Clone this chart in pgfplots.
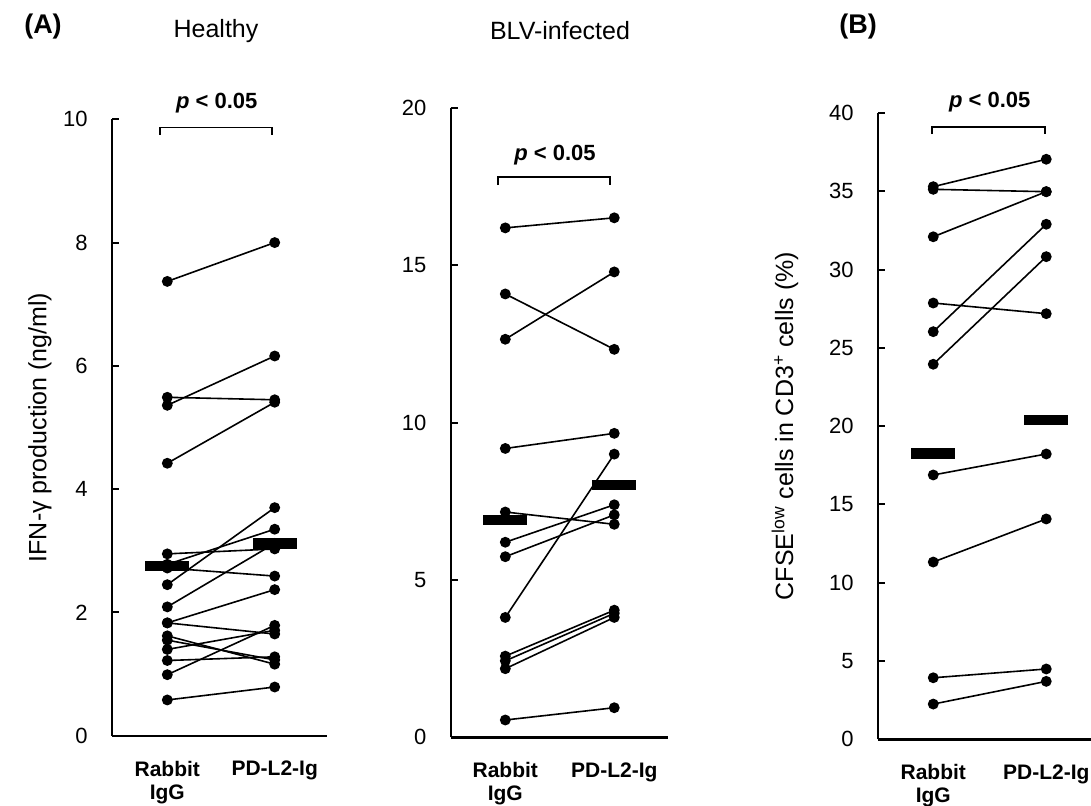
\documentclass[border=0pt]{standalone}
\usepackage{fontspec}
\setmainfont{Liberation Sans}
\usepackage{pgfplots}
\pgfplotsset{compat=1.18}
\pgfdeclareplotmark{meanbar}{\pgfpathrectangle{\pgfpoint{-11pt}{-2.6pt}}{\pgfpoint{22pt}{5.2pt}}\pgfusepathqfill}
\newcommand{\tk}{\fontsize{11}{13}\selectfont}
\newcommand{\xl}{\fontsize{10.5}{12}\selectfont}
\newcommand{\lb}{\fontsize{12.5}{14}\selectfont}
\begin{document}
\begin{tikzpicture}
\path[use as bounding box] (0,0) rectangle (545.5pt,402.5pt);
\pgfplotsset{
  panel/.style={
    scale only axis,
    axis lines*=left,
    axis line style={line width=1.2pt},
    tick align=inside,
    major tick length=3.5pt,
    every tick/.style={line width=1pt, black},
    x tick style={draw=none},
    xtick={0,1},
    xticklabels={{Rabbit\\[-0.5pt]IgG},{PD-L2-Ig}},
    xticklabel style={font=\xl\bfseries, align=center, anchor=north, yshift=-12.5pt, inner sep=0pt},
    yticklabel style={font=\tk, inner sep=0pt, xshift=-12pt},
    /pgf/number format/assume math mode=true,
    clip=false,
    every axis y label/.style={rotate=90, anchor=center, font=\lb},
  },
  pr/.style={black, line width=0.8pt, mark=*, mark size=2.3pt, mark options={solid}},
  meanst/.style={only marks, mark=meanbar, black},
}
% Panel A healthy
\begin{axis}[panel, at={(56pt,34.65pt)}, anchor=south west,
  width=107.5pt, height=308.2pt,
  xmin=-0.515, xmax=1.487, ymin=0, ymax=10, ytick={0,2,4,6,8,10},
  ylabel={IFN-γ production (ng/ml)},
  every axis y label/.append style={at={(rel axis cs:-0.335,0.5)}}]
\addplot[pr] coordinates {(0,7.37) (1,8.00)};
\addplot[pr] coordinates {(0,5.36) (1,6.16)};
\addplot[pr] coordinates {(0,5.49) (1,5.45)};
\addplot[pr] coordinates {(0,4.42) (1,5.41)};
\addplot[pr] coordinates {(0,2.95) (1,3.03)};
\addplot[pr] coordinates {(0,2.78) (1,3.35)};
\addplot[pr] coordinates {(0,2.72) (1,2.59)};
\addplot[pr] coordinates {(0,2.45) (1,3.70)};
\addplot[pr] coordinates {(0,2.09) (1,3.12)};
\addplot[pr] coordinates {(0,1.83) (1,2.37)};
\addplot[pr] coordinates {(0,1.83) (1,1.65)};
\addplot[pr] coordinates {(0,1.62) (1,1.16)};
\addplot[pr] coordinates {(0,1.55) (1,1.23)};
\addplot[pr] coordinates {(0,1.40) (1,1.71)};
\addplot[pr] coordinates {(0,1.22) (1,1.28)};
\addplot[pr] coordinates {(0,0.99) (1,1.79)};
\addplot[pr] coordinates {(0,0.58) (1,0.79)};
\addplot[meanst] coordinates {(0,2.75) (1,3.12)};
\draw[line width=0.8pt] (axis cs:-0.068,9.75) -- (axis cs:-0.068,9.866) -- (axis cs:0.975,9.866) -- (axis cs:0.975,9.75);
\node[font=\tk\bfseries] at (axis cs:0.46,10.27) {\textit{p} < 0.05};
\end{axis}
% Panel A BLV
\begin{axis}[panel, at={(225.35pt,33.85pt)}, anchor=south west,
  width=108.65pt, height=314.65pt,
  xmin=-0.501, xmax=1.493, ymin=0, ymax=20, ytick={0,5,10,15,20}]
\addplot[pr] coordinates {(0,16.19) (1,16.51)};
\addplot[pr] coordinates {(0,14.09) (1,12.33)};
\addplot[pr] coordinates {(0,12.65) (1,14.79)};
\addplot[pr] coordinates {(0,9.18) (1,9.66)};
\addplot[pr] coordinates {(0,7.16) (1,6.77)};
\addplot[pr] coordinates {(0,6.20) (1,7.39)};
\addplot[pr] coordinates {(0,5.74) (1,7.07)};
\addplot[pr] coordinates {(0,3.81) (1,9.00)};
\addplot[pr] coordinates {(0,2.58) (1,4.04)};
\addplot[pr] coordinates {(0,2.43) (1,3.94)};
\addplot[pr] coordinates {(0,2.18) (1,3.81)};
\addplot[pr] coordinates {(0,0.55) (1,0.94)};
\addplot[meanst] coordinates {(0,6.91) (1,8.02)};
\draw[line width=0.8pt] (axis cs:-0.067,17.55) -- (axis cs:-0.067,17.81) -- (axis cs:0.96,17.81) -- (axis cs:0.96,17.55);
\node[font=\tk\bfseries] at (axis cs:0.456,18.5) {\textit{p} < 0.05};
\end{axis}
% Panel B
\begin{axis}[panel, at={(439pt,32.85pt)}, anchor=south west,
  width=106.5pt, height=313.2pt,
  xmin=-0.489, xmax=1.396, ymin=0, ymax=40, ytick={0,5,...,40},
  ylabel={CFSE\textsuperscript{low} cells in CD3\textsuperscript{+} cells (\%)},
  every axis y label/.append style={at={(rel axis cs:-0.437,0.5)}}]
\addplot[pr] coordinates {(0,35.29) (1,37.04)};
\addplot[pr] coordinates {(0,35.12) (1,34.97)};
\addplot[pr] coordinates {(0,32.09) (1,34.97)};
\addplot[pr] coordinates {(0,27.86) (1,27.18)};
\addplot[pr] coordinates {(0,26.03) (1,32.89)};
\addplot[pr] coordinates {(0,23.95) (1,30.82)};
\addplot[pr] coordinates {(0,16.88) (1,18.22)};
\addplot[pr] coordinates {(0,11.32) (1,14.07)};
\addplot[pr] coordinates {(0,3.93) (1,4.49)};
\addplot[pr] coordinates {(0,2.25) (1,3.70)};
\addplot[meanst] coordinates {(0,18.26) (1,20.39)};
\draw[line width=0.8pt] (axis cs:-0.012,38.65) -- (axis cs:-0.012,39.1) -- (axis cs:0.987,39.1) -- (axis cs:0.987,38.65);
\node[font=\tk\bfseries] at (axis cs:0.5,40.7) {\textit{p} < 0.05};
\end{axis}
\node[font=\fontsize{13.5}{15}\selectfont\bfseries] at (21.5pt,389pt) {(A)};
\node[font=\lb] at (108pt,387pt) {Healthy};
\node[font=\lb] at (280pt,387pt) {BLV-infected};
\node[font=\fontsize{13.5}{15}\selectfont\bfseries] at (429pt,389pt) {(B)};
\end{tikzpicture}
\end{document}
